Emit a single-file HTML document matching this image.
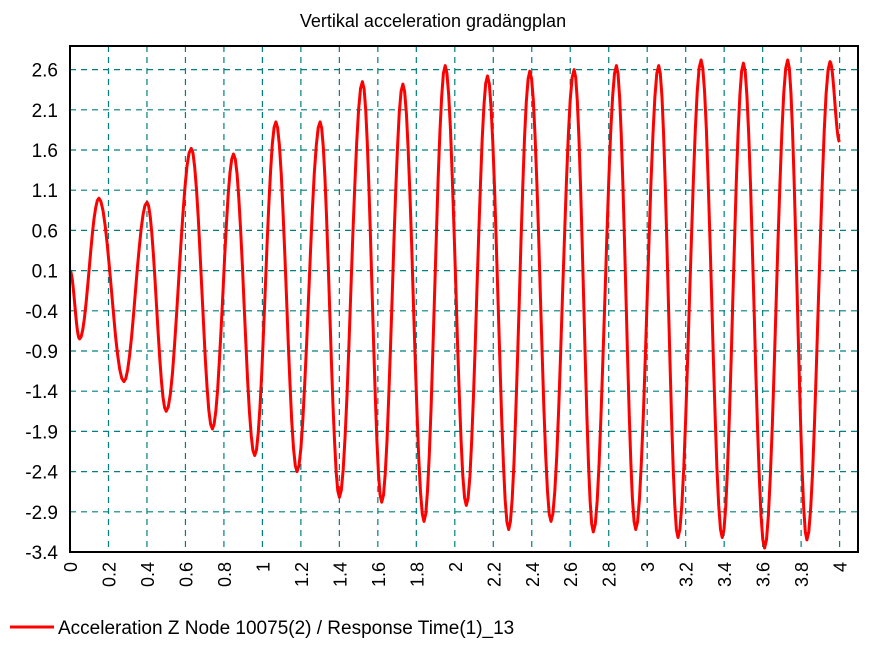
<!DOCTYPE html>
<html><head><meta charset="utf-8"><style>
body{margin:0;background:#fff;}
svg text{font-family:"Liberation Sans",sans-serif;fill:#000;}
</style></head><body>
<svg id="s" width="878" height="658" xmlns="http://www.w3.org/2000/svg">
<rect width="878" height="658" fill="#fff"/>
<text x="433" y="27" font-size="18" text-anchor="middle">Vertikal acceleration gradängplan</text>
<g id="grid" stroke="#008080" stroke-width="1.2" stroke-dasharray="6,5"></g>
<g id="lab"></g>
<polyline id="ln" fill="none" stroke="#f00" stroke-width="3" stroke-linejoin="round"/>
<rect x="70" y="46" width="788" height="506" fill="none" stroke="#000" stroke-width="2"/>
<line x1="10" y1="627" x2="54" y2="627" stroke="#f00" stroke-width="3"/>
<text x="58" y="634" font-size="19">Acceleration Z Node 10075(2) / Response Time(1)_13</text>
</svg>
<script>
var NS="http://www.w3.org/2000/svg";
function X(t){return 70+t*192.4;}
function Y(v){return 552-(v+3.4)*80.4;}
var g=document.getElementById('grid'),lab=document.getElementById('lab');
function el(p,n,a,txt){var e=document.createElementNS(NS,n);for(var k in a)e.setAttribute(k,a[k]);if(txt)e.textContent=txt;p.appendChild(e);return e;}
for(var i=0;i<=12;i++){var v=2.6-0.5*i,y=Y(v);
 if(i<12)el(g,'line',{x1:70,x2:858,y1:y,y2:y});
 el(lab,'text',{x:58,y:y+7,'text-anchor':'end','font-size':19},(Math.round(v*10)/10).toString());}
for(var i=0;i<=20;i++){var t=i*0.2,x=X(t);
 if(i>0)el(g,'line',{x1:x,x2:x,y1:46,y2:552});
 el(lab,'text',{x:0,y:0,'font-size':18,transform:'translate('+(x+7)+',562) rotate(-90)','text-anchor':'end'},(Math.round(t*10)/10).toString());}
var ex=[[0,0.1],[0.05,-0.75],[0.15,1.0],[0.28,-1.28],[0.4,0.95],[0.5,-1.65],[0.63,1.62],[0.74,-1.87],[0.85,1.55],[0.96,-2.2],[1.07,1.95],[1.18,-2.4],[1.3,1.95],[1.4,-2.72],[1.52,2.45],[1.62,-2.78],[1.73,2.42],[1.84,-3.02],[1.95,2.65],[2.06,-2.82],[2.17,2.52],[2.28,-3.12],[2.39,2.58],[2.5,-3.02],[2.62,2.6],[2.72,-3.15],[2.84,2.65],[2.94,-3.12],[3.06,2.65],[3.16,-3.22],[3.28,2.72],[3.39,-3.22],[3.5,2.68],[3.61,-3.35],[3.73,2.72],[3.83,-3.25],[3.95,2.7],[4.0,1.7]];
var pts=[];
for(var k=0;k<ex.length-1;k++){var a=ex[k],b=ex[k+1];
 for(var j=0;j<12;j++){var f=j/12,t=a[0]+(b[0]-a[0])*f,v=a[1]+(b[1]-a[1])*(1-Math.cos(Math.PI*f))/2;pts.push(X(t).toFixed(1)+','+Y(v).toFixed(1));}}
pts.push(X(4).toFixed(1)+','+Y(1.7).toFixed(1));
document.getElementById('ln').setAttribute('points',pts.join(' '));
</script>
</body></html>
